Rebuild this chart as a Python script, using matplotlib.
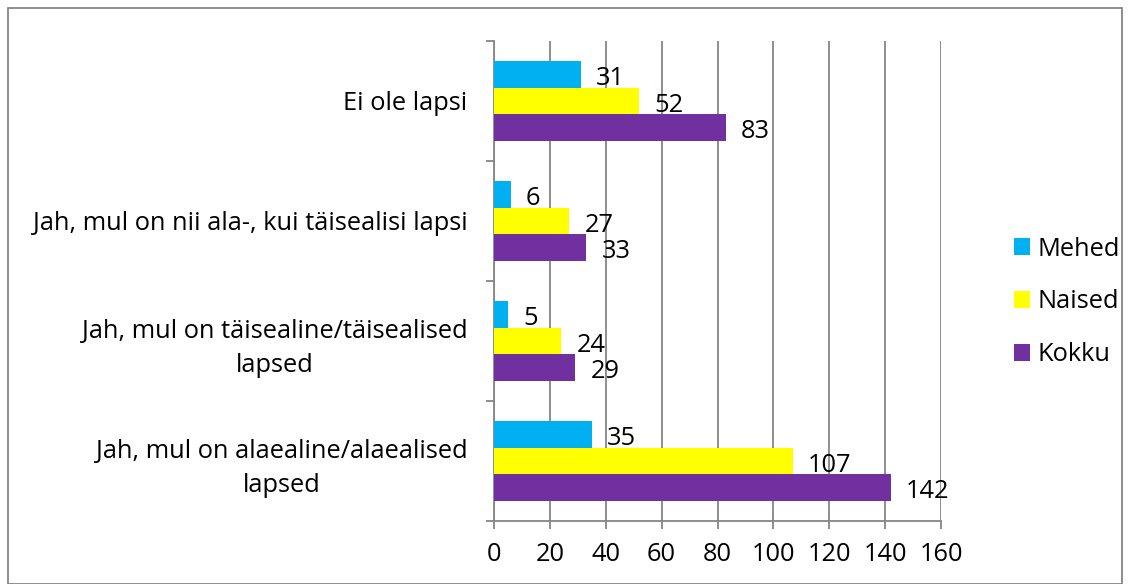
import matplotlib.pyplot as plt
import numpy as np
from matplotlib.patches import Rectangle

categories = ["Ei ole lapsi",
              "Jah, mul on nii ala-, kui täisealisi lapsi",
              "Jah, mul on täisealine/täisealised\nlapsed",
              "Jah, mul on alaealine/alaealised\nlapsed"]
series = ["Mehed", "Naised", "Kokku"]
mehed = [31, 6, 5, 35]
naised = [52, 27, 24, 107]
kokku = [83, 33, 29, 142]
colors = ["#00B0F0", "#FFFF00", "#7030A0"]
xticks = [0, 20, 40, 60, 80, 100, 120, 140, 160]

plt.rcParams['font.family'] = ['Open Sans', 'DejaVu Sans']
fs = 18.3

fig = plt.figure(figsize=(11.31, 5.84), dpi=100)
ax = fig.add_axes([494 / 1131, 1 - 521 / 584, 447 / 1131, 480 / 584])

ypos = np.arange(len(categories))[::-1]
h = 0.222
grid = "#868686"

for vals, off, col, name in zip([mehed, naised, kokku], [h, 0, -h], colors, series):
    bars = ax.barh(ypos + off, vals, height=h, color=col, label=name, zorder=3)
    for b, v in zip(bars, vals):
        ax.annotate(str(v), (b.get_width(), b.get_y() + b.get_height() / 2),
                    xytext=(11, -3), textcoords="offset points",
                    ha="left", va="center", fontsize=fs)

ax.set_xlim(0, 160)
ax.set_ylim(-0.5, 3.5)
ax.set_xticks(xticks)
ax.set_xticklabels([str(t) for t in xticks], fontsize=fs)
ax.set_yticks(ypos)
ax.set_yticklabels(categories, fontsize=fs, multialignment="center",
                   linespacing=1.45)
ax.tick_params(axis="y", length=0, pad=19)
ax.tick_params(axis="x", length=6, width=1.3, color=grid, pad=9)
ax.set_yticks(np.arange(-0.5, 4, 1), minor=True)
ax.tick_params(axis="y", which="minor", length=6, width=1.3, color=grid)
ax.xaxis.grid(True, color=grid, linewidth=1.3, zorder=0)

for s in ["top", "right"]:
    ax.spines[s].set_visible(False)
for s in ["left", "bottom"]:
    ax.spines[s].set_color(grid)
    ax.spines[s].set_linewidth(1.3)

leg = ax.legend(loc="center left", bbox_to_anchor=(1004 / 1131, 1 - 302 / 584),
                bbox_transform=fig.transFigure, frameon=False, fontsize=fs,
                handlelength=0.62, handleheight=0.62, handletextpad=0.3,
                labelspacing=1.1, borderaxespad=0)

fig.patches.append(Rectangle((8 / 1131, 0), 1114 / 1131, 1 - 8 / 584,
                             transform=fig.transFigure, fill=False,
                             edgecolor=grid, linewidth=1.3))

fig.savefig("out.png", dpi=100)
